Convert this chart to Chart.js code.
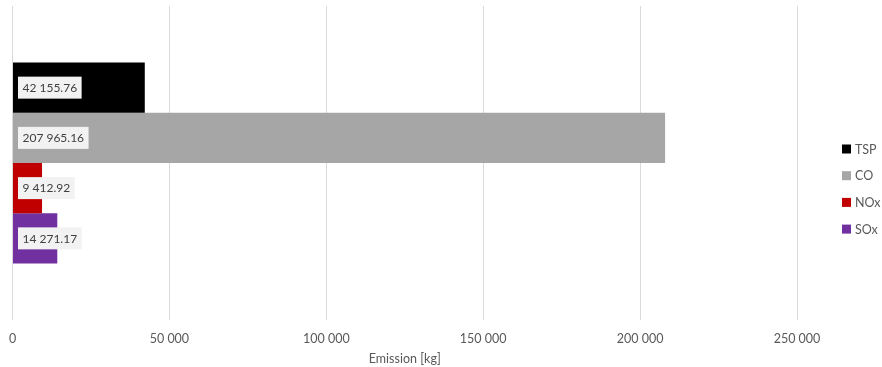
<!DOCTYPE html>
<html>
<head>
<meta charset="utf-8">
<script src="https://cdn.jsdelivr.net/npm/chart.js@4.4.1/dist/chart.umd.min.js"></script>
<style>
  html, body { margin: 0; padding: 0; background: #ffffff; }
  #wrap { width: 882px; height: 367px; position: relative; }
</style>
</head>
<body>
<div id="wrap"><canvas id="c" width="882" height="367"></canvas></div>
<script>
// Emission totals per pollutant
const pollutants = ['TSP', 'CO', 'NOx', 'SOx'];
const emissions = [42155.76, 207965.16, 9412.92, 14271.17];
const barColors = ['#000000', '#a6a6a6', '#c00000', '#7030a0'];
const xTicks = [0, 50000, 100000, 150000, 200000, 250000];
const axisTitle = 'Emission [kg]';

const FONT = 'Lato, "Open Sans", sans-serif';
const TEXT = '#595959';

function spaced(v, decimals) {
  const fixed = v.toFixed(decimals);
  const [intPart, frac] = fixed.split('.');
  const grouped = intPart.replace(/\B(?=(\d{3})+(?!\d))/g, ' ');
  return frac ? grouped + '.' + frac : grouped;
}

// Value boxes drawn at the start of each bar
const valueLabels = {
  id: 'valueLabels',
  afterDatasetsDraw(chart) {
    const ctx = chart.ctx;
    ctx.save();
    ctx.font = '12px ' + FONT;
    ctx.textBaseline = 'middle';
    chart.data.datasets.forEach((ds, i) => {
      const meta = chart.getDatasetMeta(i);
      meta.data.forEach((bar, j) => {
        const txt = spaced(ds.data[j], 2);
        const w = ctx.measureText(txt).width;
        const x0 = bar.base + 5;
        const y = bar.y;
        ctx.fillStyle = '#f2f2f2';
        ctx.fillRect(x0, y - 11, w + 9, 22);
        ctx.fillStyle = '#404040';
        ctx.textAlign = 'left';
        ctx.fillText(txt, x0 + 4.5, y + 0.5);
      });
    });
    ctx.restore();
  }
};

// Legend on the right side
const sideLegend = {
  id: 'sideLegend',
  afterDraw(chart) {
    const ctx = chart.ctx;
    ctx.save();
    ctx.font = '12.5px ' + FONT;
    ctx.textBaseline = 'middle';
    ctx.textAlign = 'left';
    const x = 842, y0 = 149, step = 26.7;
    chart.data.datasets.forEach((ds, i) => {
      const y = y0 + i * step;
      ctx.fillStyle = ds.backgroundColor;
      ctx.fillRect(x, y - 4.5, 9, 9);
      ctx.fillStyle = TEXT;
      ctx.fillText(ds.label, x + 13, y + 0.5);
    });
    ctx.restore();
  }
};

new Chart(document.getElementById('c'), {
  type: 'bar',
  data: {
    labels: [''],
    datasets: pollutants.map((p, i) => ({
      label: p,
      data: [emissions[i]],
      backgroundColor: barColors[i],
      borderWidth: 0,
      categoryPercentage: 0.64,
      barPercentage: 1.0
    }))
  },
  options: {
    indexAxis: 'y',
    responsive: false,
    animation: false,
    layout: { padding: { top: 6, left: 12.5, right: 85, bottom: 0 } },
    plugins: { legend: { display: false }, tooltip: { enabled: false } },
    scales: {
      x: {
        min: 0,
        max: 250000,
        afterBuildTicks(axis) { axis.ticks = xTicks.map(v => ({ value: v })); },
        afterFit(axis) {
          axis.height = 47;
          axis.paddingLeft = 0;
          axis.paddingRight = 0;
        },
        grid: { color: '#d9d9d9', drawTicks: false, lineWidth: 1 },
        border: { display: false },
        ticks: {
          color: TEXT,
          font: { family: FONT, size: 12.5 },
          padding: 11,
          maxRotation: 0,
          callback: v => spaced(v, 0)
        },
        title: {
          display: true,
          text: axisTitle,
          color: TEXT,
          font: { family: FONT, size: 12.5 },
          padding: { top: 2, bottom: 1 }
        }
      },
      y: {
        display: false,
        offset: true
      }
    }
  },
  plugins: [valueLabels, sideLegend]
});
</script>
</body>
</html>
